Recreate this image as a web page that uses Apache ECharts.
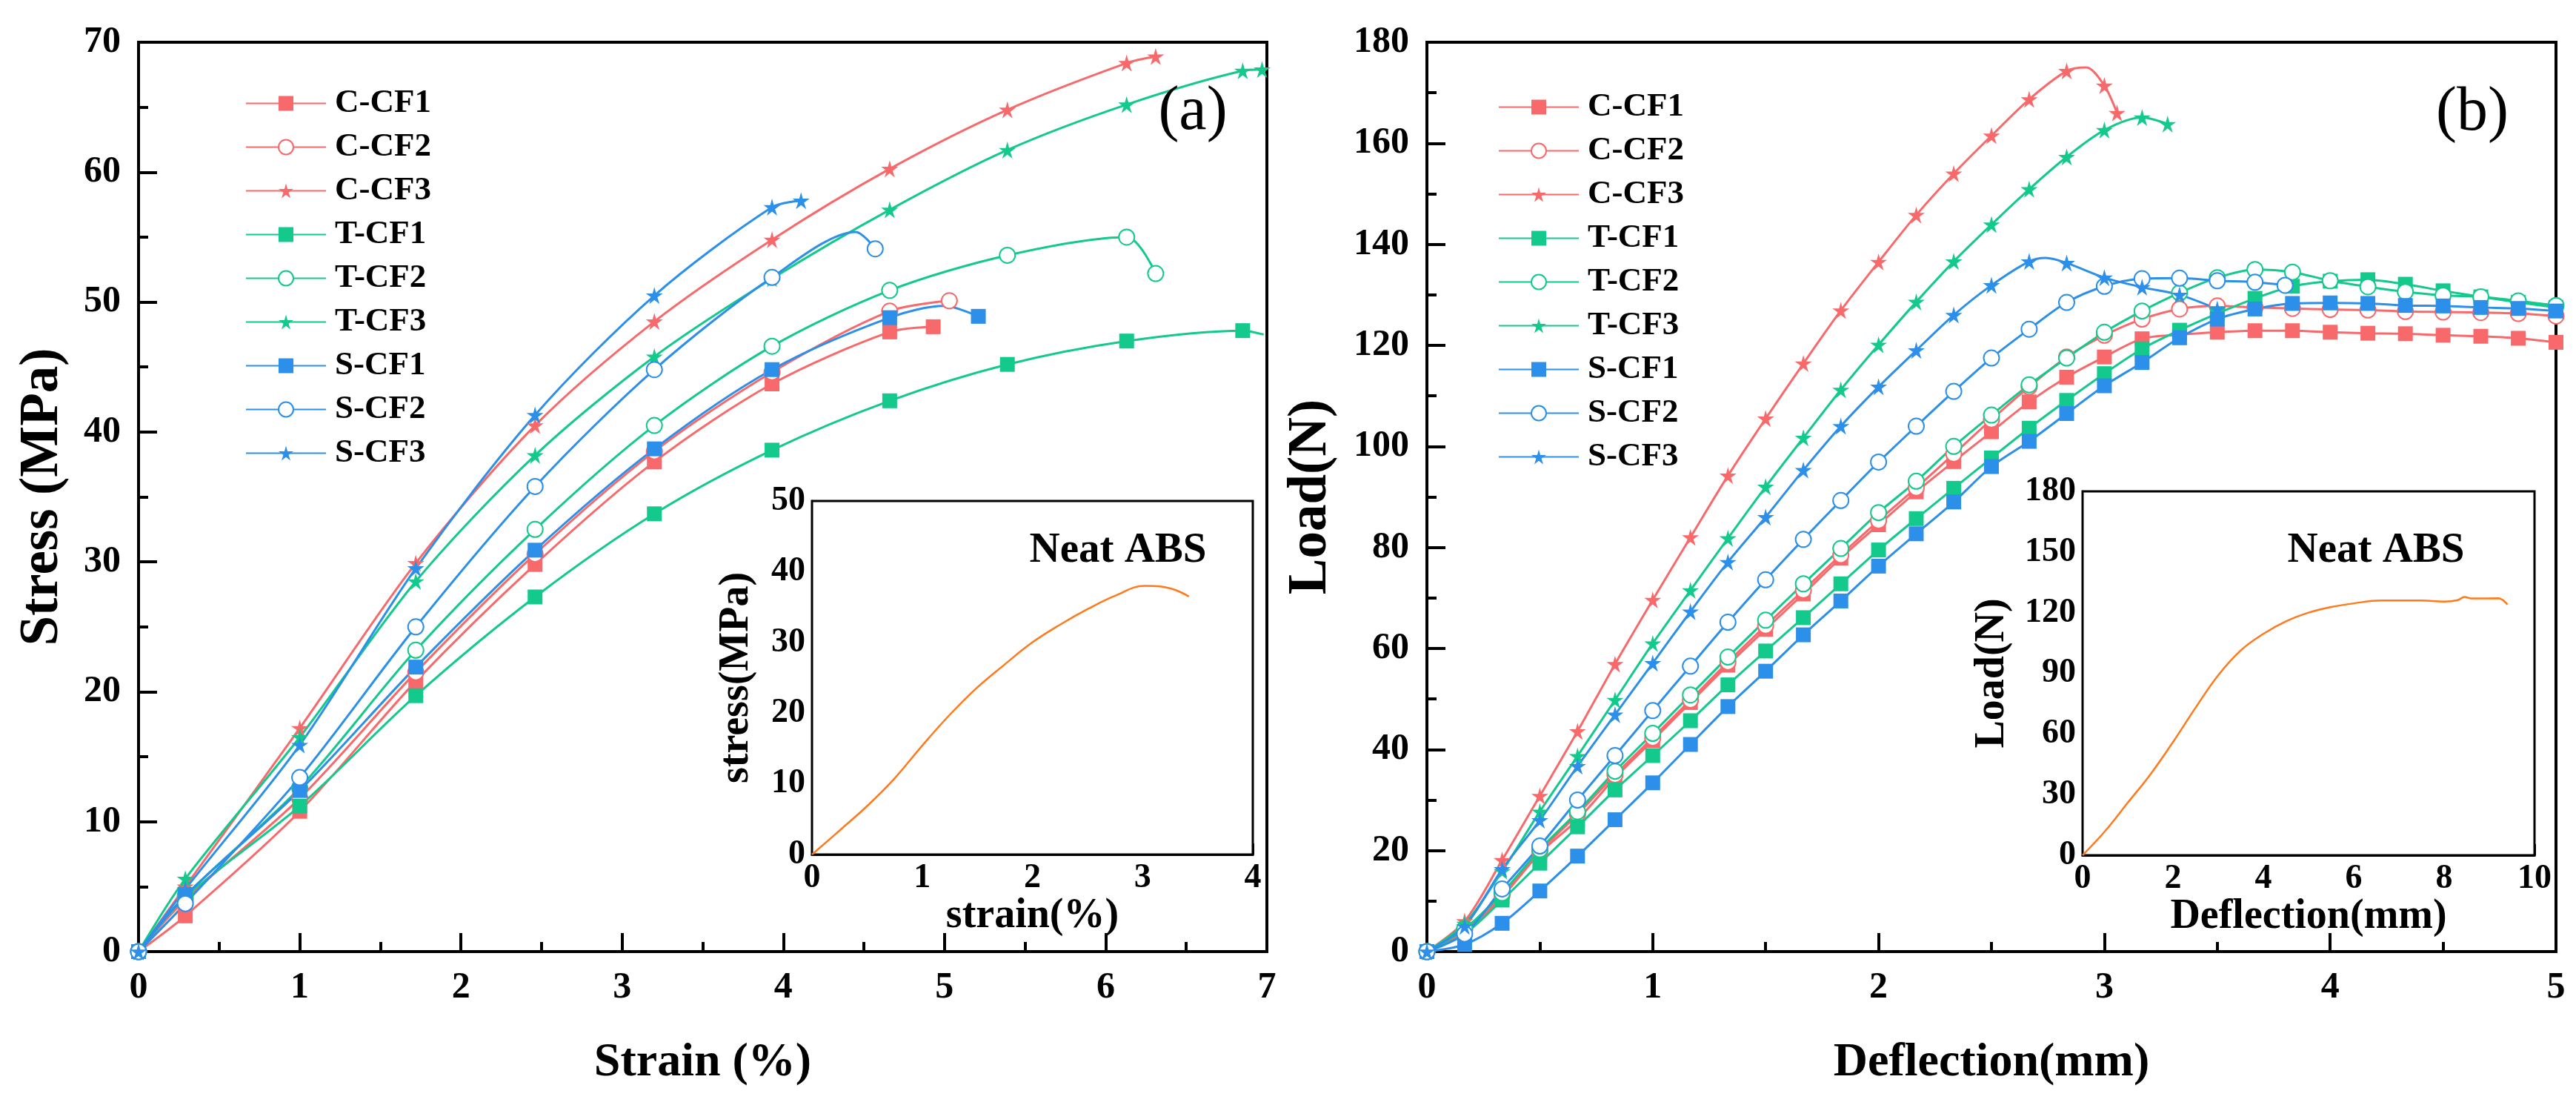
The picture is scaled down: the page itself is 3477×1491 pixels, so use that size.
<!DOCTYPE html>
<html>
<head>
<meta charset="utf-8">
<title>Stress-strain and load-deflection curves</title>
<script src="https://cdn.jsdelivr.net/npm/echarts@6/dist/echarts.min.js"></script>
<style>
  html, body { margin: 0; padding: 0; background: #fff; }
  #chart { width: 3477px; height: 1491px; }
</style>
</head>
<body>
<div id="chart"></div>
<script>
// specimen names (legend order)
var names = ['C-CF1', 'C-CF2', 'C-CF3', 'T-CF1', 'T-CF2', 'T-CF3', 'S-CF1', 'S-CF2', 'S-CF3'];

// (a) tensile test: [strain %, stress MPa]
var tenCCF1 = [[0,0],[0.29,2.75],[1.0,10.8],[1.72,20.8],[2.46,29.8],[3.2,37.7],[3.93,43.7],[4.66,47.7],[4.93,48.1]];
var tenCCF2 = [[0,0],[0.29,4.0],[1.0,11.8],[1.72,21.5],[2.46,30.6],[3.2,38.5],[3.93,44.6],[4.66,49.3],[5.03,50.1]];
var tenCCF3 = [[0,0],[0.29,5.0],[1.0,17.2],[1.72,29.9],[2.46,40.5],[3.2,48.5],[3.93,54.8],[4.66,60.25],[5.39,64.8],[6.13,68.4],[6.31,68.9]];
var tenTCF1 = [[0,0],[0.29,4.2],[1.0,11.2],[1.72,19.7],[2.46,27.3],[3.2,33.7],[3.93,38.6],[4.66,42.4],[5.39,45.2],[6.13,47.0],[6.85,47.8],[6.98,47.5]];
var tenTCF2 = [[0,0],[0.29,4.3],[1.0,12.6],[1.72,23.2],[2.46,32.5],[3.2,40.5],[3.93,46.6],[4.66,50.9],[5.39,53.6],[6.13,55.0],[6.31,52.2]];
var tenTCF3 = [[0,0],[0.29,5.6],[1.0,16.5],[1.72,28.5],[2.46,38.2],[3.2,45.8],[3.93,51.8],[4.66,57.1],[5.39,61.7],[6.13,65.2],[6.85,67.8],[6.97,67.9]];
var tenSCF1 = [[0,0],[0.29,4.3],[1.0,12.4],[1.72,21.9],[2.46,30.9],[3.2,38.7],[3.93,44.8],[4.66,48.8],[5.0,49.7],[5.21,48.9]];
var tenSCF2 = [[0,0],[0.29,3.7],[1.0,13.4],[1.72,25.0],[2.46,35.8],[3.2,44.8],[3.93,51.9],[4.45,55.4],[4.57,54.1]];
var tenSCF3 = [[0,0],[0.29,4.8],[1.0,15.9],[1.72,29.5],[2.46,41.3],[3.2,50.5],[3.93,57.3],[4.11,57.8]];

// (a) inset, neat ABS: [strain %, stress MPa]
var tenNeat = [[0,0],[0.28,3.8],[0.51,7.0],[0.74,10.6],[1.0,15.4],[1.24,19.6],[1.49,23.5],[1.75,26.9],[1.99,29.9],
  [2.25,32.5],[2.5,34.7],[2.75,36.6],[3.02,38.0],[3.17,37.9],[3.3,37.4],[3.42,36.5]];

// (b) flexural test: [deflection mm, load N]
var flxCCF1 = [[0,0],[0.167,4],[0.333,10.8],[0.5,19.5],[0.667,26.1],[0.833,34.4],[1.0,41.8],[1.167,49.3],[1.333,56.7],[1.5,63.8],
  [1.667,70.8],[1.833,77.9],[2.0,84.5],[2.167,91],[2.333,97],[2.5,102.9],[2.667,108.8],[2.833,113.7],[3.0,117.7],[3.167,121.3],
  [3.333,122.1],[3.5,122.6],[3.667,122.9],[3.833,122.9],[4.0,122.6],[4.167,122.4],[4.333,122.3],[4.5,122],[4.667,121.8],[4.833,121.4],[5.0,120.6]];
var flxCCF2 = [[0,0],[0.167,4.3],[0.333,11.2],[0.5,19.8],[0.667,27.2],[0.833,35],[1.0,42.3],[1.167,49.8],[1.333,57.3],[1.5,64.5],
  [1.667,71.5],[1.833,78.5],[2.0,85.3],[2.167,91.8],[2.333,98.5],[2.5,105.3],[2.667,111.8],[2.833,117.7],[3.0,122],[3.167,125.2],
  [3.333,127.2],[3.5,127.8],[3.667,127.5],[3.833,127.3],[4.0,127.1],[4.167,127],[4.333,126.7],[4.5,126.6],[4.667,126.5],[4.833,126.3],[5.0,125.8]];
var flxCCF3 = [[0,0],[0.167,6],[0.333,18.1],[0.5,30.8],[0.667,43.6],[0.833,56.9],[1.0,69.6],[1.167,82],[1.333,94.2],[1.5,105.5],
  [1.667,116.4],[1.833,126.9],[2.0,136.5],[2.167,145.8],[2.333,154],[2.5,161.5],[2.667,168.7],[2.833,174.3],[2.92,175],[3.0,171.4],[3.056,166]];
var flxTCF1 = [[0,0],[0.167,3.5],[0.333,10.2],[0.5,17.5],[0.667,24.7],[0.833,32],[1.0,38.8],[1.167,45.7],[1.333,52.8],[1.5,59.5],
  [1.667,66.1],[1.833,72.8],[2.0,79.5],[2.167,85.7],[2.333,91.7],[2.5,97.7],[2.667,103.6],[2.833,109.1],[3.0,114.4],[3.167,119.3],
  [3.333,123],[3.5,126.3],[3.667,129.3],[3.833,131.7],[4.0,132.7],[4.167,133],[4.333,132.1],[4.5,130.8],[4.667,129.6],[4.833,128.5],[5.0,127.5]];
var flxTCF2 = [[0,0],[0.167,4.5],[0.333,11.6],[0.5,20.2],[0.667,27.7],[0.833,35.7],[1.0,43.2],[1.167,50.8],[1.333,58.3],[1.5,65.6],
  [1.667,72.8],[1.833,79.8],[2.0,86.9],[2.167,93.1],[2.333,100],[2.5,106.2],[2.667,112.2],[2.833,117.5],[3.0,122.6],[3.167,126.8],
  [3.333,130.4],[3.5,133.4],[3.667,135],[3.833,134.5],[4.0,132.8],[4.167,131.6],[4.333,130.6],[4.5,129.9],[4.667,129.6],[4.833,128.8],[5.0,127.9]];
var flxTCF3 = [[0,0],[0.167,5.5],[0.333,15.9],[0.5,27.7],[0.667,38.7],[0.833,49.8],[1.0,61],[1.167,71.5],[1.333,81.8],[1.5,92],
  [1.667,101.7],[1.833,111.2],[2.0,120.1],[2.167,128.6],[2.333,136.6],[2.5,143.9],[2.667,150.9],[2.833,157.3],[3.0,162.6],[3.167,165.1],[3.28,163.8]];
var flxSCF1 = [[0,0],[0.167,1.4],[0.333,5.6],[0.5,12],[0.667,18.9],[0.833,26.1],[1.0,33.4],[1.167,41],[1.333,48.5],[1.5,55.5],
  [1.667,62.7],[1.833,69.4],[2.0,76.3],[2.167,82.7],[2.333,89],[2.5,96],[2.667,101],[2.833,106.5],[3.0,112],[3.167,116.6],
  [3.333,121.5],[3.5,125.2],[3.667,127.2],[3.833,128.3],[4.0,128.4],[4.167,128.3],[4.333,127.9],[4.5,127.8],[4.667,127.5],[4.833,127.3],[5.0,126.8]];
var flxSCF2 = [[0,0],[0.167,3.5],[0.333,12.4],[0.5,20.9],[0.667,30],[0.833,38.8],[1.0,47.7],[1.167,56.5],[1.333,65.2],[1.5,73.6],
  [1.667,81.6],[1.833,89.3],[2.0,96.9],[2.167,104],[2.333,110.9],[2.5,117.5],[2.667,123.2],[2.833,128.5],[3.0,131.7],[3.167,133.2],
  [3.333,133.3],[3.5,132.8],[3.667,132.5],[3.8,131.9]];
var flxSCF3 = [[0,0],[0.167,5],[0.333,16.3],[0.5,26],[0.667,36.7],[0.833,46.9],[1.0,57.1],[1.167,67.3],[1.333,77.1],[1.5,86],
  [1.667,95.3],[1.833,104],[2.0,111.8],[2.167,119],[2.333,126],[2.5,131.9],[2.667,136.6],[2.74,137.3],[2.833,136.3],[3.0,133.4],
  [3.167,131.5],[3.333,130],[3.5,127.2]];

// (b) inset, neat ABS: [deflection mm, load N]
var flxNeat = [[0,0],[0.5,12],[1,26],[1.5,40],[2,56],[2.5,73],[3,89],[3.5,101.3],[4,109.5],[4.5,115.7],[5,120],[5.5,122.8],
  [6,124.6],[6.6,126],[7.5,126],[8,125.5],[8.3,126.2],[8.45,127.8],[8.6,127],[9.2,127.1],[9.4,124]];

// x values that only shape a curve (no marker drawn there)
var bendsTen = { 'T-CF1': [6.98], 'S-CF1': [5.0], 'S-CF2': [4.45] };
var bendsFlx = { 'C-CF3': [2.92], 'S-CF3': [2.74] };

var tenRows = [tenCCF1, tenCCF2, tenCCF3, tenTCF1, tenTCF2, tenTCF3, tenSCF1, tenSCF2, tenSCF3];
var flxRows = [flxCCF1, flxCCF2, flxCCF3, flxTCF1, flxTCF2, flxTCF3, flxSCF1, flxSCF2, flxSCF3];

var FONT = 'Liberation Serif';
var colors = { C: '#F8696B', T: '#13C98B', S: '#2C8FE9' };
var STAR = 'path://M50,0 L60,36 L98,36 L67,58 L79,95 L50,72 L21,95 L33,58 L2,36 L40,36 Z';
var shapes = { CF1: 'rect', CF2: 'emptyCircle', CF3: STAR };
var sizes = { CF1: 20, CF2: 21, CF3: 23 };

var chart = echarts.init(document.getElementById('chart'), null, { renderer: 'canvas' });

function points(rows, bends) {
    return rows.map(function (p) {
        if (bends && bends.indexOf(p[0]) >= 0) {
            return { value: p, symbol: 'none' };
        }
        return p;
    });
}

function curve(name, rows, bends, axis) {
    var c = colors[name.charAt(0)], kind = name.slice(2);
    return {
        name: name,
        type: 'line',
        xAxisIndex: axis,
        yAxisIndex: axis,
        data: points(rows, bends),
        smooth: 0.3,
        showAllSymbol: true,
        symbol: shapes[kind],
        symbolSize: sizes[kind],
        lineStyle: { color: c, width: 3 },
        itemStyle: { color: c, borderColor: c, borderWidth: kind === 'CF2' ? 3 : 0 },
        emphasis: { disabled: true },
        z: 3
    };
}

function axis(grid, min, max, step, big, name, gap, pos) {
    var isX = pos === 'bottom';
    var titleSize = big ? (isX ? 64 : 73) : 56;
    return {
        type: 'value',
        gridIndex: grid,
        position: pos,
        min: min,
        max: max,
        interval: step,
        name: name,
        nameLocation: 'middle',
        nameGap: gap,
        nameRotate: isX ? 0 : 90,
        nameTextStyle: { fontFamily: FONT, fontWeight: 'bold', fontSize: titleSize, color: '#000' },
        axisLine: { show: true, onZero: false, lineStyle: { color: '#000', width: big ? 4 : 3 } },
        axisTick: { show: true, inside: true, length: big ? 25 : 15, lineStyle: { color: '#000', width: big ? 4 : 3 } },
        minorTick: { show: true, splitNumber: 2, length: big ? 13 : 8, lineStyle: { color: '#000', width: big ? 4 : 3 } },
        axisLabel: {
            fontFamily: FONT, fontWeight: 'bold', fontSize: big ? 50 : 46, color: '#000',
            margin: big ? 24 : 9
        },
        splitLine: { show: false }
    };
}

function legend(left, top) {
    return {
        data: names,
        orient: 'vertical',
        left: left,
        top: top,
        itemWidth: 108,
        itemHeight: 25,
        itemGap: 14,
        selectedMode: false,
        textStyle: {
            fontFamily: FONT, fontWeight: 'bold', fontSize: 45, color: '#000',
            lineHeight: 45, padding: [0, 0, 0, 7]
        }
    };
}

function label(text, x, y, size, bold) {
    return {
        type: 'text',
        x: x,
        y: y,
        z: 10,
        style: {
            text: text,
            fontFamily: FONT,
            fontWeight: bold ? 'bold' : 'normal',
            fontSize: size,
            fill: '#000',
            align: 'center',
            verticalAlign: 'middle'
        }
    };
}

var series = [];
names.forEach(function (n, i) { series.push(curve(n, tenRows[i], bendsTen[n], 0)); });
series.push({
    name: 'Neat ABS tensile', type: 'line', xAxisIndex: 1, yAxisIndex: 1, data: tenNeat,
    smooth: 0.4, symbol: 'none', lineStyle: { color: '#FF7A1C', width: 2.5 }, z: 6
});
names.forEach(function (n, i) { series.push(curve(n, flxRows[i], bendsFlx[n], 2)); });
series.push({
    name: 'Neat ABS flexural', type: 'line', xAxisIndex: 3, yAxisIndex: 3, data: flxNeat,
    smooth: 0.4, symbol: 'none', lineStyle: { color: '#FF7A1C', width: 2.5 }, z: 6
});

var option = {
    animation: false,
    backgroundColor: '#fff',
    textStyle: { fontFamily: FONT },
    grid: [
        { left: 187, top: 57, width: 1523, height: 1227, show: true, borderColor: '#000', borderWidth: 4, backgroundColor: 'transparent' },
        { left: 1096, top: 676, width: 595, height: 477, show: true, borderColor: '#000', borderWidth: 3, backgroundColor: '#fff', z: 5 },
        { left: 1926, top: 57, width: 1524, height: 1227, show: true, borderColor: '#000', borderWidth: 4, backgroundColor: 'transparent' },
        { left: 2811, top: 663, width: 610, height: 491, show: true, borderColor: '#000', borderWidth: 3, backgroundColor: '#fff', z: 5 }
    ],
    xAxis: [
        axis(0, 0, 7, 1, true, 'Strain (%)', 118, 'bottom'),
        axis(1, 0, 4, 1, false, 'strain(%)', 51, 'bottom'),
        axis(2, 0, 5, 1, true, 'Deflection(mm)', 118, 'bottom'),
        axis(3, 0, 10, 2, false, 'Deflection(mm)', 55, 'bottom')
    ],
    yAxis: [
        axis(0, 0, 70, 10, true, 'Stress (MPa)', 92, 'left'),
        axis(1, 0, 50, 10, false, 'stress(MPa)', 73, 'left'),
        axis(2, 0, 180, 20, true, 'Load(N)', 119, 'left'),
        axis(3, 0, 180, 30, false, 'Load(N)', 93, 'left')
    ],
    legend: [legend(326, 112), legend(2017, 117)],
    graphic: [
        label('(a)', 1610, 152, 84, false),
        label('(b)', 3337, 153, 84, false),
        label('Neat ABS', 1509, 743, 57, true),
        label('Neat ABS', 3207, 743, 57, true)
    ],
    series: series
};

chart.setOption(option);
</script>
</body>
</html>
